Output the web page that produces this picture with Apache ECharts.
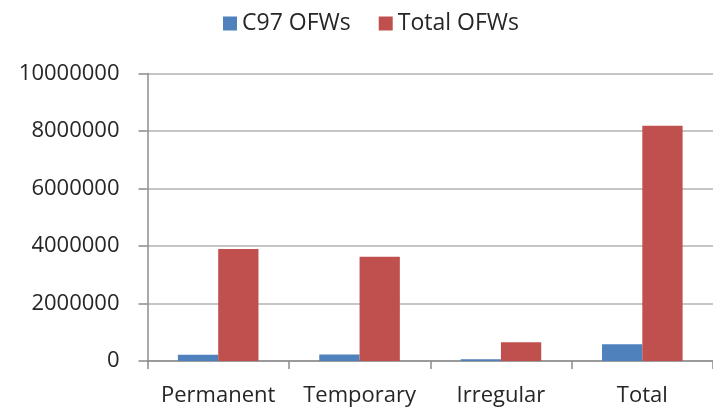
<!DOCTYPE html>
<html>
<head>
<meta charset="utf-8">
<script src="https://cdn.jsdelivr.net/npm/echarts@6/dist/echarts.min.js"></script>
<style>html,body{margin:0;padding:0;background:#fff}#c{width:713px;height:412px}</style>
</head>
<body>
<div id="c"></div>
<script>
const categories = ['Permanent', 'Temporary', 'Irregular', 'Total'];
const c97Values = [220000, 230000, 60000, 580000];
const totalValues = [3900000, 3630000, 650000, 8180000];
const seriesNames = ['C97 OFWs', 'Total OFWs'];
const yTicks = { min: 0, max: 10000000, interval: 2000000 };

const FONT = 'Open Sans';
const chart = echarts.init(document.getElementById('c'), null, { renderer: 'canvas' });
chart.setOption({
  animation: false,
  textStyle: { fontFamily: FONT },
  legend: {
    top: 7, left: 218,
    itemWidth: 14, itemHeight: 14, itemGap: 28,
    icon: 'rect',
    textStyle: { fontFamily: FONT, fontSize: 23, color: '#262626' },
    data: seriesNames
  },
  grid: { left: 147.5, right: 0, top: 73.5, bottom: 51, containLabel: false },
  xAxis: {
    type: 'category', data: categories,
    axisLine: { lineStyle: { color: '#8C8C8C', width: 1.5 } },
    axisTick: { show: true, length: 8, lineStyle: { color: '#8C8C8C', width: 1.5 } },
    axisLabel: { fontFamily: FONT, fontSize: 22, color: '#262626', margin: 24, interval: 0 }
  },
  yAxis: {
    type: 'value', min: yTicks.min, max: yTicks.max, interval: yTicks.interval,
    axisLine: { show: true, lineStyle: { color: '#8C8C8C', width: 1.5 } },
    axisTick: { show: true, length: 9, lineStyle: { color: '#8C8C8C', width: 1.5 } },
    splitLine: { show: true, lineStyle: { color: '#B3B3B3', width: 1.5 } },
    axisLabel: { fontFamily: FONT, fontSize: 22, color: '#262626', margin: 28,
      formatter: v => String(v) }
  },
  series: [
    { name: seriesNames[0], type: 'bar', data: c97Values, barGap: '0%', barCategoryGap: '43%',
      itemStyle: { color: '#4F81BD' } },
    { name: seriesNames[1], type: 'bar', data: totalValues, barGap: '0%', barCategoryGap: '43%',
      itemStyle: { color: '#C0504D' } }
  ]
});
</script>
</body>
</html>
